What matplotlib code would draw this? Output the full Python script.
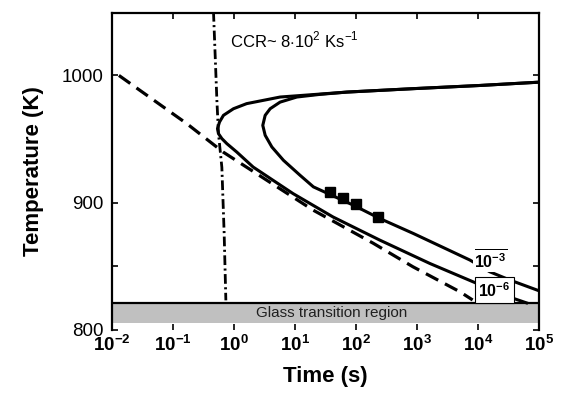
import matplotlib
matplotlib.use('Agg')
import matplotlib.pyplot as plt
from matplotlib.ticker import FixedLocator, FixedFormatter, NullFormatter

plt.rcParams['font.family'] = ['Liberation Sans', 'DejaVu Sans']
plt.rcParams['mathtext.fontset'] = 'custom'
plt.rcParams['mathtext.rm'] = 'Liberation Sans'
plt.rcParams['mathtext.bf'] = 'Liberation Sans:bold'
plt.rcParams['lines.scale_dashes'] = False

# cooling curve at the critical rate (dashed)
cool_t = [0.013, 0.169, 0.664, 3.45, 19.8, 190, 857, 5010, 8130]
cool_T = [1000, 962, 939.7, 917.5, 894, 868, 849.4, 829.8, 823.3]

# CCR line (dash-dot)
ccr_t = [0.461, 0.524, 0.556, 0.632, 0.689, 0.735]
ccr_T = [1050, 980.4, 954.4, 927.7, 875.9, 823]

# TTT curve, crystallized fraction 1e-6
ttt6_t = [100000, 10700, 871, 70.8, 5.69, 1.61, 0.98, 0.671, 0.578, 0.536,
          0.556, 0.632, 0.764, 1.11, 2.06, 9.29, 42.0, 245, 1622, 9460,
          37600, 62200]
ttt6_T = [994.7, 992.1, 989.6, 986.9, 983, 977.8, 973.8, 968.6, 963.3, 958.1,
          954.2, 950.3, 946.3, 939.7, 927.9, 907, 888.6, 870.4, 852, 836.4,
          824.6, 821]

# TTT curve, crystallized fraction 1e-3
ttt3_t = [100000, 10700, 871, 70.8, 25.7, 10.7, 5.69, 3.91, 3.24, 2.96,
          3.24, 4.17, 6.46, 12.1, 20.0, 90.2, 245, 871, 7350, 15500,
          33100, 100000]
ttt3_T = [994.7, 992.1, 989.6, 986.9, 985.1, 983, 979, 973.8, 968.6, 960.7,
          952.9, 943.7, 933.2, 921.4, 912.3, 897.9, 887.4, 875.6, 854.7, 845.5,
          839, 830.5]

# experimental points
exp_t = [37.6, 61.7, 100, 232]
exp_T = [908.3, 903.9, 898.7, 888.2]

xticks = [1e-2, 1e-1, 1e0, 1e1, 1e2, 1e3, 1e4, 1e5]
xtick_labels = [r'$\mathbf{10^{-2}}$', r'$\mathbf{10^{-1}}$', r'$\mathbf{10^{0}}$',
                r'$\mathbf{10^{1}}$', r'$\mathbf{10^{2}}$', r'$\mathbf{10^{3}}$',
                r'$\mathbf{10^{4}}$', r'$\mathbf{10^{5}}$']
yticks = [800, 900, 1000]
ytick_labels = ['800', '900', '1000']

fig = plt.figure(figsize=(5.61, 3.99), dpi=100)
ax = fig.add_axes([0.1996, 0.174, 0.7614, 0.793])

ax.set_xscale('log')
ax.set_xlim(1e-2, 1e5)
ax.set_ylim(800, 1049)

# glass transition band
ax.axhspan(805, 821, color='#c0c0c0', zorder=1, lw=0)
ax.axhline(821, color='black', lw=1.6, zorder=2)
ax.text(40, 813, 'Glass transition region', ha='center', va='center',
        fontsize=11, color='#202020', zorder=3)

ax.plot(cool_t, cool_T, color='black', lw=2.3, dashes=(10, 5.5), zorder=4)
ax.plot(ccr_t, ccr_T, color='black', lw=2.0, dashes=(7, 2.5, 1.5, 2.5), zorder=4)
ax.plot(ttt6_t, ttt6_T, color='black', lw=2.2, solid_joinstyle='round', zorder=4)
ax.plot(ttt3_t, ttt3_T, color='black', lw=2.2, solid_joinstyle='round', zorder=4)
ax.plot(exp_t, exp_T, 's', color='black', ms=7, zorder=5)

ax.text(15800, 855, r'$\overline{\mathbf{10^{-3}}}$', ha='center', va='center',
        fontsize=11.5, zorder=6,
        bbox=dict(facecolor='white', edgecolor='none', pad=0.5))
ax.text(18600, 831, r'$\mathbf{10^{-6}}$', ha='center', va='center', fontsize=11.5,
        zorder=6, bbox=dict(facecolor='white', edgecolor='black', lw=0.8, pad=2.4))

ax.text(0.86, 1027.5, r'CCR~ 8$\cdot$10$^2$ Ks$^{-1}$', ha='left', va='center',
        fontsize=12)

ax.xaxis.set_major_locator(FixedLocator(xticks))
ax.xaxis.set_major_formatter(FixedFormatter(xtick_labels))
ax.xaxis.set_minor_locator(FixedLocator([]))
ax.yaxis.set_major_locator(FixedLocator(yticks))
ax.yaxis.set_major_formatter(FixedFormatter(ytick_labels))
ax.yaxis.set_minor_locator(FixedLocator([850]))
ax.yaxis.set_minor_formatter(NullFormatter())

ax.tick_params(which='both', direction='in', top=True, right=True, width=1.2)
ax.tick_params(which='major', length=4)
ax.tick_params(which='minor', length=4)
ax.tick_params(axis='x', labelsize=13.5, pad=4)
ax.tick_params(axis='y', labelsize=13.5, pad=6)

for s in ['left', 'right', 'top']:
    ax.spines[s].set_linewidth(1.6)
ax.spines['bottom'].set_visible(False)

ax.set_xlabel('Time (s)', fontsize=16, fontweight='bold', labelpad=8)
ax.set_ylabel('Temperature (K)', fontsize=16, fontweight='bold', labelpad=13)

fig.savefig('out.png', dpi=100)
plt.close()
